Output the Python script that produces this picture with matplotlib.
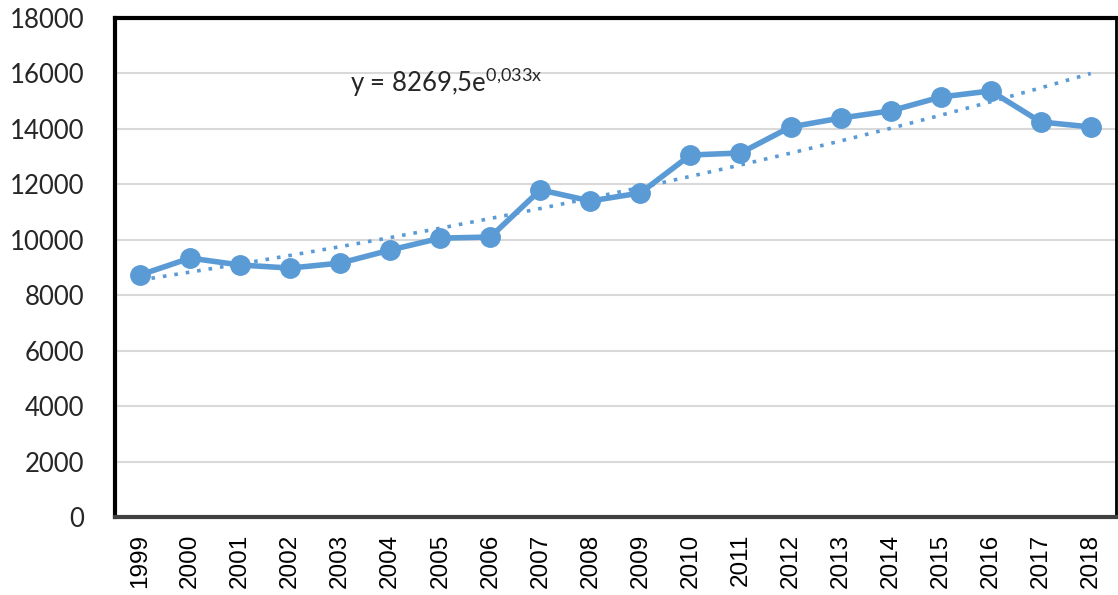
import matplotlib.pyplot as plt
import numpy as np

years = ["1999", "2000", "2001", "2002", "2003", "2004", "2005", "2006", "2007", "2008",
         "2009", "2010", "2011", "2012", "2013", "2014", "2015", "2016", "2017", "2018"]
values = [8730, 9340, 9090, 8980, 9160, 9630, 10060, 10100, 11800, 11400,
          11690, 13060, 13130, 14070, 14390, 14650, 15150, 15370, 14250, 14070]
# trendline as printed on the chart
trend_a = 8269.5
trend_b = 0.033

plt.rcParams['mathtext.fontset'] = 'custom'
plt.rcParams['mathtext.rm'] = 'Lato'

fig = plt.figure(figsize=(11.18, 5.95), dpi=100)
ax = fig.add_axes([0.1029, 0.1311, 0.8951, 0.8386])

blue = "#5B9BD5"
x = np.arange(len(years))
ax.plot(x, values, color=blue, lw=4, marker="o", markersize=14, zorder=3)

xt = x + 1
trend = trend_a * np.exp(trend_b * xt)
ax.plot(x, trend, color=blue, lw=2.6, linestyle=(0, (1, 2.2)), zorder=2)

ax.text(0.235, 0.852, r"y = 8269,5e$^{\mathrm{0{,}033x}}$", transform=ax.transAxes,
        fontsize=18.5, family="Lato", color="#262626")

ax.set_xlim(-0.5, len(years) - 0.5)
ax.set_ylim(0, 18000)
ax.set_yticks(np.arange(0, 18001, 2000))
ax.set_xticks(x)
ax.set_xticklabels(years, rotation=90, fontsize=17.5, family="Liberation Sans")
for lab in ax.get_yticklabels():
    lab.set_fontsize(18.5)
    lab.set_family("Lato")
    lab.set_color("#262626")
ax.tick_params(axis="both", length=0)
ax.tick_params(axis="y", pad=22)
ax.tick_params(axis="x", pad=12)

ax.grid(axis="y", color="#D9D9D9", lw=1.5)
ax.set_axisbelow(True)

ax.spines["left"].set_linewidth(3)
ax.spines["top"].set_linewidth(3)
ax.spines["right"].set_linewidth(2)
ax.spines["bottom"].set_linewidth(3)
ax.spines["bottom"].set_color("#404040")

fig.savefig("out.png", dpi=100)
